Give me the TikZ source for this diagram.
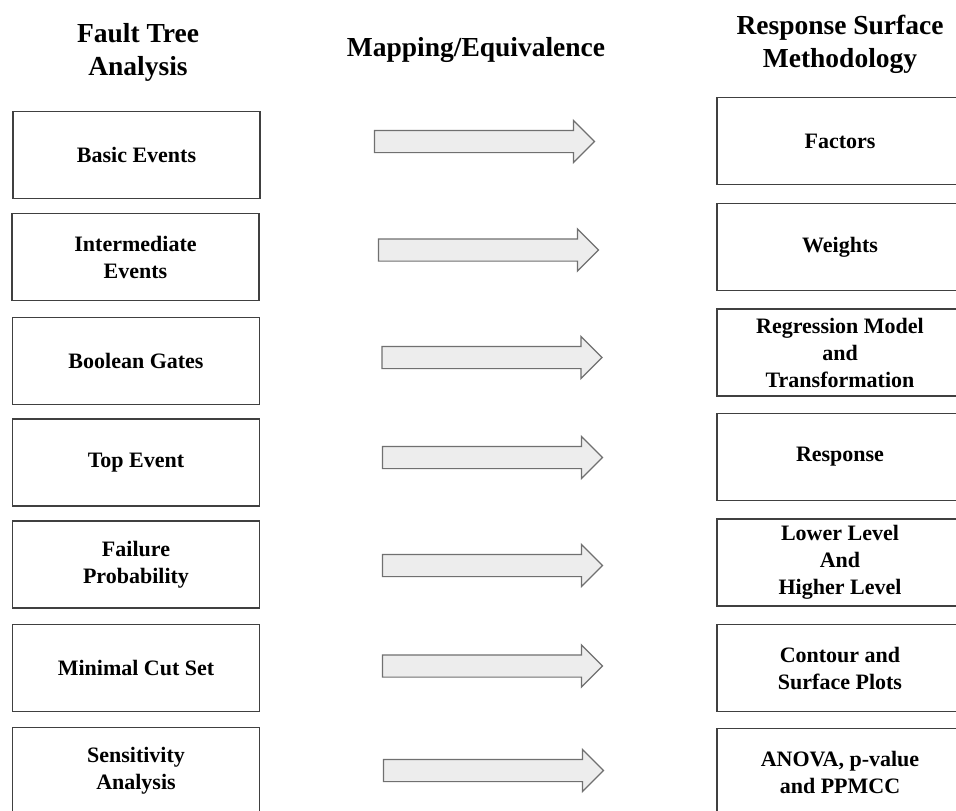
\documentclass[tikz,border=0pt]{standalone}
\usepackage{fontspec}
\setmainfont{Liberation Serif}
\usepackage{xcolor}
\usetikzlibrary{shapes.arrows, positioning}

\definecolor{boxline}{HTML}{404040}
\definecolor{arrline}{HTML}{707070}
\definecolor{arrfill}{HTML}{EDEDED}

\begin{document}
\begin{tikzpicture}[
  x=1pt, y=-1pt,
  every node/.style={font=\bfseries\fontsize{22}{27}\selectfont},
  heading/.style={align=center, inner sep=0pt,
                  font=\bfseries\fontsize{27.5}{33}\selectfont},
  ftabox/.style={rectangle, draw=boxline, line width=1.3pt, fill=white,
                 minimum width=247pt, minimum height=87pt, align=center},
  rsmbox/.style={ftabox, minimum width=246pt},
  maparrow/.style={single arrow, draw=arrline, fill=arrfill, line width=1.2pt,
                   minimum height=220pt, inner xsep=0pt, inner ysep=10.5pt,
                   single arrow head extend=10pt, single arrow head indent=0pt},
]
\useasboundingbox (0,0) rectangle (956,811);

% headings
\node[heading] (hfta) at (138,52)   {Fault Tree\\Analysis};
\node[heading] (hmap) at (476,49.5) {Mapping/Equivalence};
\node[heading] (hrsm) at (840,44.5) {Response Surface\\Methodology};

% fault tree side
\node[ftabox] (basic) at (136.5,155)  {Basic Events};
\node[ftabox] (inter) at (135.5,257)  {Intermediate\\Events};
\node[ftabox] (gates) at (136,361)    {Boolean Gates};
\node[ftabox] (top)   at (136,462.5)  {Top Event};
\node[ftabox] (fprob) at (136,564.5)  {Failure\\Probability};
\node[ftabox] (mcs)   at (136,668)    {Minimal Cut Set};
\node[ftabox] (sens)  at (136,771)    {Sensitivity\\Analysis};

% response surface side
\node[rsmbox] (fact)  at (840,141)    {Factors};
\node[rsmbox] (wght)  at (840,247)    {Weights};
\node[rsmbox] (regr)  at (840,352.5)  {Regression Model\\and\\Transformation};
\node[rsmbox] (resp)  at (840,457)    {Response};
\node[rsmbox] (level) at (840,562.5)  {Lower Level\\And\\Higher Level};
\node[rsmbox] (cont)  at (840,668)    {Contour and\\Surface Plots};
\node[rsmbox] (anova) at (840,772)    {ANOVA, p-value\\and PPMCC};

% mapping arrows
\node[maparrow] (m1) at (479,141.5) {};
\node[maparrow] (m2) at (483,250)   {};
\node[maparrow] (m3) at (486.5,357.5) {};
\node[maparrow] (m4) at (487,457.5) {};
\node[maparrow] (m5) at (487,565.5) {};
\node[maparrow] (m6) at (487,666)   {};
\node[maparrow] (m7) at (488,770.5) {};
\end{tikzpicture}
\end{document}
